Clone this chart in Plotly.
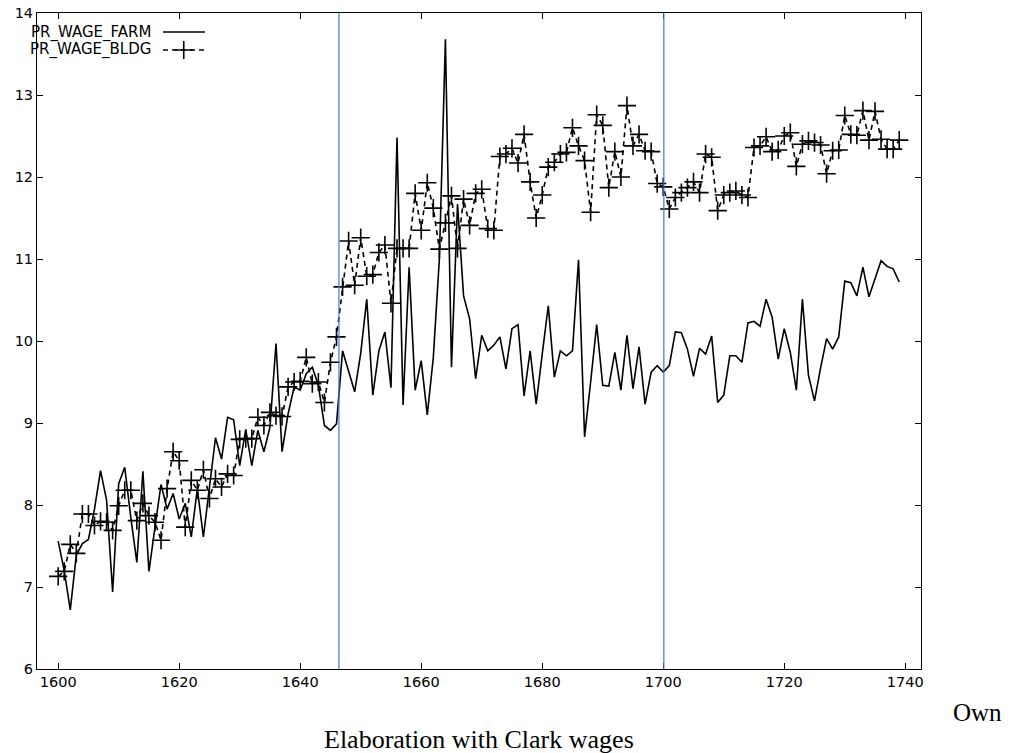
import plotly.graph_objects as go

# years 1600..1739
years = list(range(1600, 1740))

# PR_WAGE_FARM
pr_wage_farm = [
    7.56, 7.20, 6.72, 7.39, 7.53, 7.58, 7.95, 8.42, 8.06, 6.94,
    8.26, 8.46, 7.85, 7.30, 8.41, 7.19, 7.73, 8.25, 7.95, 8.14,
    7.83, 8.02, 7.61, 8.20, 7.61, 8.21, 8.82, 8.56, 9.07, 9.04,
    8.48, 8.92, 8.48, 8.91, 8.65, 8.95, 9.97, 8.65, 9.11, 9.44,
    9.40, 9.60, 9.68, 9.46, 8.97, 8.91, 8.99, 9.88, 9.64, 9.38,
    9.85, 10.51, 9.34, 9.88, 10.11, 9.43, 12.48, 9.22, 10.90, 9.40,
    9.76, 9.10, 9.80, 11.00, 13.68, 9.68, 11.67, 10.55, 10.27, 9.54,
    10.07, 9.88, 9.95, 10.05, 9.66, 10.15, 10.20, 9.33, 9.88, 9.23,
    9.84, 10.43, 9.56, 9.88, 9.82, 9.88, 10.99, 8.83, 9.50, 10.20,
    9.46, 9.45, 9.86, 9.40, 10.07, 9.42, 9.93, 9.23, 9.62, 9.70,
    9.62, 9.70, 10.11, 10.10, 9.90, 9.57, 9.91, 9.84, 10.06, 9.25,
    9.34, 9.82, 9.82, 9.74, 10.22, 10.24, 10.18, 10.51, 10.29, 9.78,
    10.15, 9.86, 9.40, 10.51, 9.58, 9.27, 9.67, 10.03, 9.90, 10.05,
    10.73, 10.71, 10.55, 10.90, 10.54, 10.76, 10.98, 10.91, 10.88, 10.72,
]

# PR_WAGE_BLDG
pr_wage_bldg = [
    7.13, 7.19, 7.52, 7.41, 7.89, 7.89, 7.75, 7.80, 7.79, 7.69,
    7.99, 8.18, 8.18, 7.81, 8.02, 7.87, 7.79, 7.57, 8.20, 8.65,
    8.54, 7.73, 8.30, 8.18, 8.43, 8.08, 8.32, 8.22, 8.38, 8.36,
    8.80, 8.81, 8.81, 9.07, 8.97, 9.13, 9.09, 9.08, 9.44, 9.50,
    9.51, 9.80, 9.48, 9.50, 9.25, 9.74, 10.05, 10.66, 11.22, 10.68,
    11.26, 10.79, 10.81, 11.08, 11.17, 10.46, 11.13, 11.13, 11.13, 11.80,
    11.35, 11.93, 11.62, 11.12, 11.44, 11.77, 11.13, 11.73, 11.41, 11.80,
    11.85, 11.37, 11.35, 12.25, 12.28, 12.35, 12.17, 12.52, 11.94, 11.50,
    11.78, 12.12, 12.18, 12.28, 12.30, 12.60, 12.38, 12.20, 11.57, 12.76,
    12.63, 11.87, 12.31, 12.00, 12.87, 12.38, 12.52, 12.32, 12.31, 11.92,
    11.88, 11.61, 11.75, 11.81, 11.87, 11.94, 11.81, 12.28, 12.24, 11.59,
    11.78, 11.81, 11.83, 11.78, 11.75, 12.36, 12.38, 12.49, 12.31, 12.33,
    12.50, 12.54, 12.13, 12.40, 12.44, 12.42, 12.39, 12.04, 12.32, 12.33,
    12.75, 12.52, 12.51, 12.81, 12.45, 12.80, 12.46, 12.34, 12.34, 12.45,
]

# vertical marker lines
break_years = [1646.4, 1700.1]

x_ticks = [1600, 1620, 1640, 1660, 1680, 1700, 1720, 1740]
y_ticks = [6, 7, 8, 9, 10, 11, 12, 13, 14]

legend_labels = ["PR_WAGE_FARM", "PR_WAGE_BLDG"]

sans = "DejaVu Sans"
serif = "Liberation Serif"

fig = go.Figure()

fig.add_trace(go.Scatter(
    x=years, y=pr_wage_farm, mode="lines", name=legend_labels[0],
    line=dict(color="black", width=1.6),
))
fig.add_trace(go.Scatter(
    x=years, y=pr_wage_bldg, mode="lines+markers", name=legend_labels[1],
    line=dict(color="black", width=1.6, dash="5px,4px"),
    marker=dict(symbol="cross-thin", size=13, color="black",
                line=dict(color="black", width=1.6)),
))

# gnuplot style key: text on the left, sample on the right
key_y = [0.971, 0.9436]
fig.add_trace(go.Scatter(
    x=[0.1425, 0.19], y=[key_y[0], key_y[0]], xaxis="x2", yaxis="y2",
    mode="lines", line=dict(color="black", width=1.6), hoverinfo="skip",
))
fig.add_trace(go.Scatter(
    x=[0.1425, 0.19], y=[key_y[1], key_y[1]], xaxis="x2", yaxis="y2",
    mode="lines", line=dict(color="black", width=1.6, dash="5px,4px"),
    hoverinfo="skip",
))
fig.add_trace(go.Scatter(
    x=[0.166], y=[key_y[1]], xaxis="x2", yaxis="y2", mode="markers",
    marker=dict(symbol="cross-thin", size=13, color="black",
                line=dict(color="black", width=1.6)),
    hoverinfo="skip",
))
for i, lab in enumerate(legend_labels):
    fig.add_annotation(
        x=0.131, y=key_y[i], xref="paper", yref="paper",
        text=lab, showarrow=False, xanchor="right", yanchor="middle",
        font=dict(family=sans, size=15, color="black"),
    )

for bx in break_years:
    fig.add_shape(type="line", x0=bx, x1=bx, y0=0, y1=1, xref="x", yref="paper",
                  line=dict(color="#3f78d8", width=1.2), layer="above")

axis_common = dict(
    showline=True, linecolor="black", linewidth=1, mirror="ticks",
    ticks="inside", ticklen=6, tickcolor="black", tickwidth=1,
    showgrid=False, zeroline=False, automargin=False,
    ticklabeloverflow="allow",
    tickfont=dict(family=sans, size=14.5, color="black"),
)

fig.add_annotation(x=1.0, y=-0.066, xref="paper", yref="paper", text="Own",
                   showarrow=False, xanchor="left", yanchor="middle",
                   xshift=30, font=dict(family=serif, size=25, color="black"))
fig.add_annotation(x=0.5, y=-0.108, xref="paper", yref="paper",
                   text="Elaboration with Clark wages", showarrow=False,
                   xanchor="center", yanchor="middle",
                   font=dict(family=serif, size=26, color="black"))

fig.update_layout(
    width=1013, height=753,
    margin=dict(l=37, r=92, t=13, b=84),
    plot_bgcolor="white", paper_bgcolor="white",
    showlegend=False,
    xaxis=dict(range=[1596.5, 1742.6], tickvals=x_ticks, **axis_common),
    yaxis=dict(range=[6, 14], tickvals=y_ticks, **axis_common),
    xaxis2=dict(range=[0, 1], overlaying="x", visible=False),
    yaxis2=dict(range=[0, 1], overlaying="y", visible=False),
)

# drop the default 8px page margin so the figure fills the window
fig.write_html("out.html", config={"displayModeBar": False},
               post_script="document.body.style.margin='0';document.body.style.overflow='hidden';")
